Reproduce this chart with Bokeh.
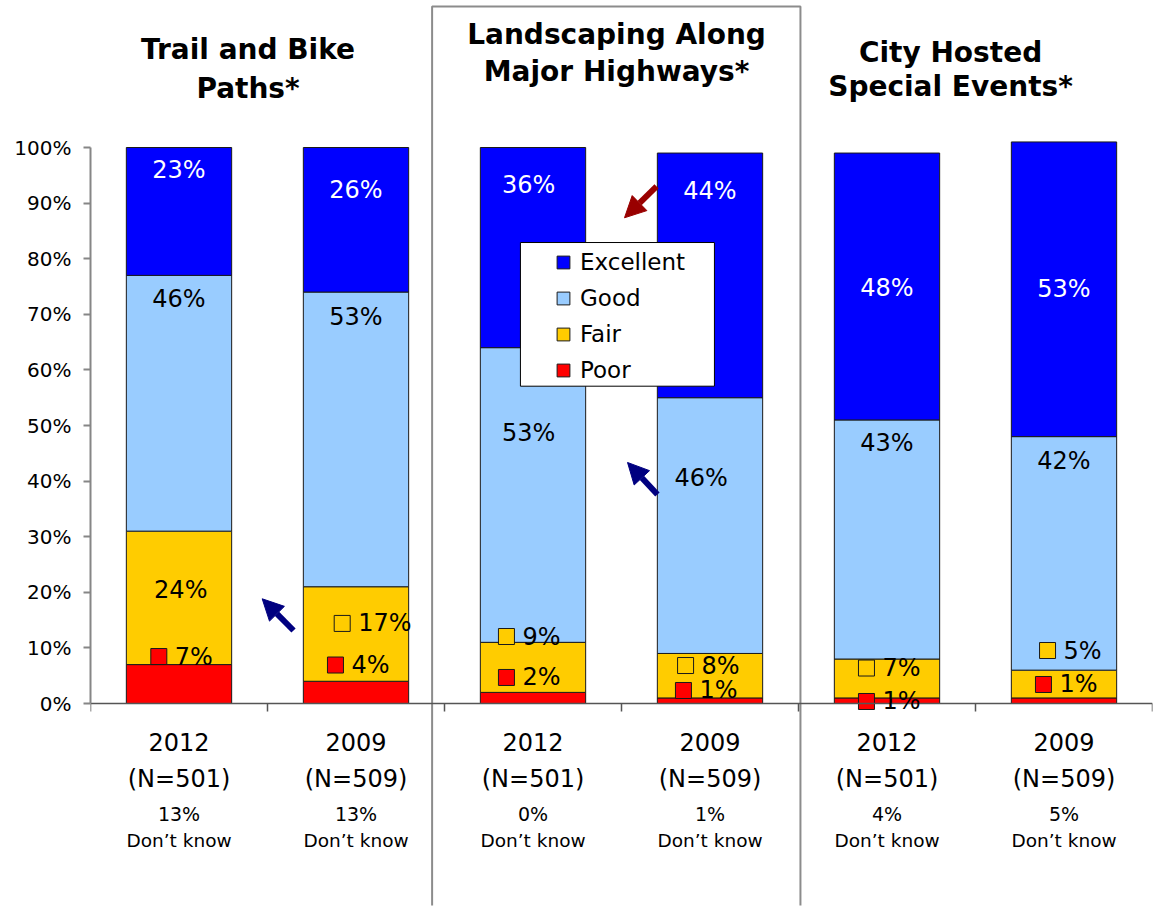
from bokeh.plotting import figure
from bokeh.models import (ColumnDataSource, Range1d, FixedTicker, PrintfTickFormatter,
                          Label, Arrow, NormalHead, Legend, LegendItem, BoxAnnotation)
from bokeh.embed import file_html
from bokeh.resources import INLINE

FONT = "DejaVu Sans"

# ---------------- data ----------------
title_line1 = ["Trail and Bike", "Landscaping Along", "City Hosted"]
title_line2 = ["Paths*", "Major Highways*", "Special Events*"]
years = ["2012", "2009", "2012", "2009", "2012", "2009"]
sample_sizes = ["(N=501)", "(N=509)", "(N=501)", "(N=509)", "(N=501)", "(N=509)"]
dont_know = ["13%", "13%", "0%", "1%", "4%", "5%"]
series = ["Excellent", "Good", "Fair", "Poor"]
poor = [7, 4, 2, 1, 1, 1]
fair = [24, 17, 9, 8, 7, 5]
good = [46, 53, 53, 46, 43, 42]
excellent = [23, 26, 36, 44, 48, 53]

# ---------------- label layout (percent units / bar offsets) ----------------
exc_label_y = [95.9, 92.3, 93.2, 92.1, 74.8, 74.5]
exc_label_dx = [0, 0, -0.025, 0, 0, 0]
good_label_y = [72.8, 69.6, 48.7, 40.5, 46.8, 43.7]
good_label_dx = [0, 0, -0.025, -0.05, 0, 0]
fair_label_y = [20.5, 14.4, 12.05, 6.83, 6.38, 9.53]
fair_key_dx = [None, -0.078, -0.150, -0.138, -0.116, -0.093]
poor_label_y = [8.45, 6.92, 4.68, 2.34, 0.36, 3.42]
poor_key_dx = [-0.114, -0.116, -0.150, -0.150, -0.116, -0.116]

colors = {"Excellent": "#0000FF", "Good": "#99CCFF", "Fair": "#FFCC00", "Poor": "#FF0000"}

n = len(years)
xs = [i + 0.5 for i in range(n)]
KEY_TEXT_GAP = 0.0904  # key centre -> label start, category units

# frame spans the canvas vertically (0..905 px); 0% sits at 703 px, 5.56 px per percent
PX = 5.56
FRAME_BOTTOM = 905
p = figure(width=1153, height=915, x_range=Range1d(0, 6),
           y_range=Range1d(-(FRAME_BOTTOM - 703) / PX, 703 / PX),
           output_backend="svg", toolbar_location=None,
           min_border_left=90, min_border_right=1, min_border_top=0,
           min_border_bottom=915 - FRAME_BOTTOM)
p.outline_line_color = None
p.xgrid.visible = False
p.ygrid.visible = False
p.background_fill_color = "white"
p.border_fill_color = "white"

src = ColumnDataSource(dict(x=xs, Poor=poor, Fair=fair, Good=good, Excellent=excellent))
rs = p.vbar_stack(["Poor", "Fair", "Good", "Excellent"], x="x", width=0.595, source=src,
                  fill_color=[colors["Poor"], colors["Fair"], colors["Good"], colors["Excellent"]],
                  line_color="#1a1a1a", line_width=1)
r_by = dict(zip(["Poor", "Fair", "Good", "Excellent"], rs))

# axes
p.yaxis.ticker = FixedTicker(ticks=list(range(0, 101, 10)))
p.yaxis.formatter = PrintfTickFormatter(format="%d%%")
p.yaxis.bounds = (0, 100)
p.yaxis.major_label_text_font = FONT
p.yaxis.major_label_text_font_size = "20px"
p.yaxis.major_label_text_color = "black"
p.yaxis.axis_line_color = "#868686"
p.yaxis.axis_line_width = 2
p.yaxis.major_tick_line_color = "#868686"
p.yaxis.major_tick_line_width = 2
p.yaxis.major_tick_out = 7
p.yaxis.major_tick_in = 0
p.yaxis.minor_tick_line_color = None
p.yaxis.major_label_standoff = 12

p.xaxis.fixed_location = 0
p.xaxis.ticker = FixedTicker(ticks=list(range(0, n + 1)))
p.xaxis.major_label_overrides = {i: "" for i in range(0, n + 1)}
p.xaxis.major_label_text_font_size = "1px"
p.xaxis.major_label_standoff = 0
p.xaxis.axis_line_color = "#555555"
p.xaxis.axis_line_width = 1.5
p.xaxis.major_tick_line_color = "#555555"
p.xaxis.major_tick_line_width = 1.5
p.xaxis.major_tick_out = 8
p.xaxis.major_tick_in = 0
p.xaxis.minor_tick_line_color = None


def label(x, y, text, size="24px", color="black", align="center", bold=False):
    p.add_layout(Label(x=x, y=y, text=text, text_font=FONT, text_font_size=size,
                       text_color=color, text_align=align, text_baseline="middle",
                       text_font_style="bold" if bold else "normal"))


# ---------------- panel frame around middle group ----------------
p.add_layout(BoxAnnotation(left=1.930, right=4.011, top=125.36, bottom=-60,
                           fill_alpha=0, fill_color=None, line_color="#8c8c8c", line_width=2,
                           line_alpha=1, level="underlay"))

# ---------------- bar value labels ----------------
for i in range(n):
    label(xs[i] + exc_label_dx[i], exc_label_y[i], f"{excellent[i]}%", color="white")
    label(xs[i] + good_label_dx[i], good_label_y[i], f"{good[i]}%")
    if fair_key_dx[i] is None:
        label(xs[i] + 0.01, fair_label_y[i], f"{fair[i]}%")
    else:
        label(xs[i] + fair_key_dx[i] + KEY_TEXT_GAP, fair_label_y[i], f"{fair[i]}%", align="left")
    label(xs[i] + poor_key_dx[i] + KEY_TEXT_GAP, poor_label_y[i], f"{poor[i]}%", align="left")

keyed = [i for i in range(n) if fair_key_dx[i] is not None]
fair_key_src = ColumnDataSource(dict(kx=[xs[i] + fair_key_dx[i] for i in keyed],
                                     y=[fair_label_y[i] for i in keyed]))
p.scatter(x="kx", y="y", source=fair_key_src, marker="square", size=16,
          fill_color=colors["Fair"], line_color="#1a1a1a", line_width=1)
poor_key_src = ColumnDataSource(dict(kx=[xs[i] + poor_key_dx[i] for i in range(n)], y=poor_label_y))
p.scatter(x="kx", y="y", source=poor_key_src, marker="square", size=16,
          fill_color=colors["Poor"], line_color="#1a1a1a", line_width=1)

# ---------------- arrows ----------------
arrows = [((1.147, 13.13), (0.970, 18.83), "#000080"),
          ((3.198, 92.99), (3.017, 87.36), "#990000"),
          ((3.203, 37.59), (3.034, 43.35), "#000080")]
for (x0, y0), (x1, y1), c in arrows:
    p.add_layout(Arrow(x_start=x0, y_start=y0, x_end=x1, y_end=y1, line_color=c, line_width=6,
                       end=NormalHead(size=21, fill_color=c, line_color=c, line_width=1)))

# ---------------- titles ----------------
title_x = [0.890, 2.972, 4.859]
t1_y = [117.63, 120.32, 117.09]
t2_y = [110.61, 113.67, 110.97]
for i in range(3):
    label(title_x[i], t1_y[i], title_line1[i], size="28px", bold=True)
    label(title_x[i], t2_y[i], title_line2[i], size="28px", bold=True)

# ---------------- category labels ----------------
for i in range(n):
    label(xs[i], -7.01, years[i], size="24px")
    label(xs[i], -13.49, sample_sizes[i], size="24px")
    label(xs[i], -19.96, dont_know[i], size="19px")
    label(xs[i], -24.64, "Don\u2019t know", size="18.5px")

# ---------------- legend ----------------
p.add_layout(BoxAnnotation(left=2.429, right=3.525, top=82.91, bottom=57.07, fill_color="white",
                           fill_alpha=1, line_color="black", line_width=1, line_alpha=1))
legend = Legend(items=[LegendItem(label=s, renderers=[r_by[s]]) for s in series],
                location=(465, FRAME_BOTTOM - 383), padding=0, margin=0, spacing=10,
                glyph_width=16, glyph_height=16, label_standoff=9, label_height=25,
                label_text_font=FONT, label_text_font_size="23px", label_text_color="black",
                background_fill_alpha=0, border_line_color=None)
p.add_layout(legend)

open("out.html", "w").write(file_html(p, INLINE))
